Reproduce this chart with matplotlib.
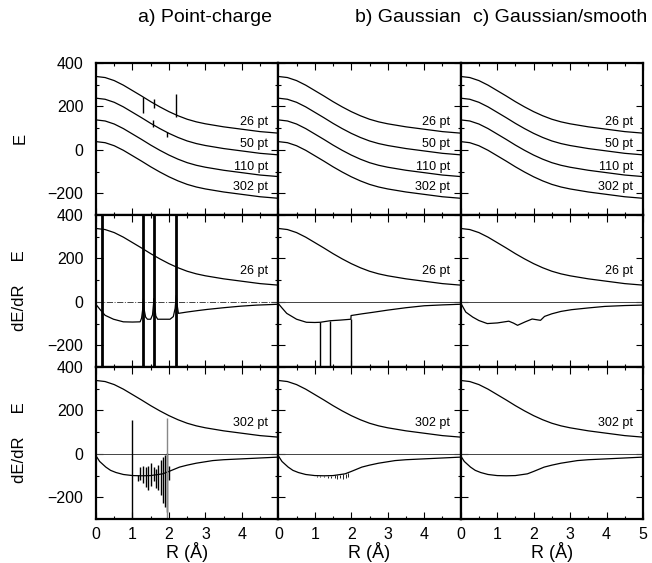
import numpy as np
import matplotlib
matplotlib.use("Agg")
import matplotlib.pyplot as plt
from matplotlib.ticker import MultipleLocator

plt.rcParams["font.family"] = ["Liberation Sans", "DejaVu Sans"]

# energia E (26 pt), le altre griglie sono spostate di -100 per leggibilita'
R_E = [0.0, 0.25, 0.5, 0.75, 1.0, 1.25, 1.5, 1.75, 2.0, 2.25, 2.5, 2.75,
       3.0, 3.5, 4.0, 4.5, 5.0]
E_26 = [338, 333, 319, 298, 273, 248, 222, 198, 176, 157, 141, 129,
        120, 106, 95, 84, 77]
GRIGLIE = ["26 pt", "50 pt", "110 pt", "302 pt"]
E_SHIFT = [0, -100, -200, -300]
POS_ETICH = [130, 28, -77, -173]

# glitch verticali su E (point-charge): 26 pt e 50 pt
GL26_R = [1.30, 1.59, 2.20]
GL26_LO = [171, 193, 150]
GL26_HI = [242, 233, 257]
GL50_R = [1.55, 1.94]
GL50_LO = [107, 61]
GL50_HI = [138, 84]

# dE/dR, 26 pt, point-charge (poli a R = 0.17, 1.30, 1.59, 2.20)
PC26_R = [0.0, 0.11, 0.25, 0.48, 0.75, 1.0, 1.21, 1.25, 1.28, 1.30, 1.32,
          1.36, 1.41, 1.50, 1.55, 1.58, 1.59, 1.61, 1.64, 1.69, 1.85, 2.03,
          2.12, 2.17, 2.20, 2.23, 2.26, 2.49, 2.8, 3.04, 3.5, 3.96, 4.4, 4.87, 5.0]
PC26_D = [-12, -35, -62, -80, -92, -93, -92, -75, -35, 15, -35, -70, -80,
          -80, -60, -5, 15, -20, -65, -80, -80, -80, -68, -30, 29, -20, -53,
          -47, -40, -35, -27, -20, -15, -12, -11]
POLI_R = [0.17, 1.30, 1.59, 2.20]

# dE/dR, 26 pt, gaussiana (salti verso il basso)
G26_R = [0.0, 0.1, 0.23, 0.5, 0.77, 1.0, 1.15, 1.42, 1.7, 1.99, 1.995, 2.3,
         2.6, 3.0, 3.5, 4.0, 4.5, 5.0]
G26_D = [-8, -28, -53, -80, -94, -95, -94, -87, -84, -80, -63, -55, -48,
         -38, -27, -18, -14, -11]
G26_CADUTE = [1.15, 1.42, 1.99]

# dE/dR, 26 pt, gaussiana smussata
SM26_R = [0.0, 0.14, 0.33, 0.5, 0.73, 1.01, 1.32, 1.45, 1.56, 1.77, 1.96,
          2.11, 2.19, 2.30, 2.50, 2.75, 3.04, 3.5, 3.95, 4.5, 4.96]
SM26_D = [-5, -47, -70, -86, -100, -97, -89, -98, -108, -92, -79, -83, -85,
          -67, -55, -44, -36, -28, -21, -17, -15]

# dE/dR, 302 pt (curva liscia)
D302_R = [0.0, 0.1, 0.27, 0.4, 0.55, 0.75, 1.0, 1.25, 1.5, 1.83, 2.0, 2.29,
          2.5, 2.75, 3.2, 3.5, 4.0, 4.5, 5.0]
D302_D = [-9, -35, -61, -76, -86, -95, -100, -101, -100, -92, -81, -61, -52,
          -43, -31, -27, -23, -19, -15]

# rumore 302 pt point-charge
PC302_R = [1.14, 1.21, 1.28, 1.36, 1.43, 1.50, 1.58, 1.65, 1.71, 1.78, 1.83,
           1.89, 1.94, 2.00]
PC302_LO = [-127, -120, -135, -154, -166, -147, -127, -158, -166, -189,
            -227, -243, -266, -120]
PC302_HI = [-97, -61, -55, -61, -55, -43, -61, -71, -51, -28, -15, -5, 3, -58]
PC302_LINEE_R = [0.98, 1.96]
PC302_LINEE_HI = [154, 167]

# rumore 302 pt gaussiana
G302_R = [1.05, 1.15, 1.25, 1.35, 1.45, 1.55, 1.62, 1.70, 1.78, 1.85, 1.92]
G302_LO = [-106, -108, -107, -110, -109, -112, -115, -110, -118, -112, -108]

TITOLI = ["a) Point-charge", "b) Gaussian", "c) Gaussian/smooth"]
TITOLI_X = [205, 408, 560]

fig = plt.figure(figsize=(6.52, 5.63), dpi=100)
gs = fig.add_gridspec(3, 3, left=96 / 652, right=643 / 652,
                      top=1 - 63 / 563, bottom=1 - 519 / 563,
                      hspace=0, wspace=0)
axs = [[fig.add_subplot(gs[r, c]) for c in range(3)] for r in range(3)]

LW = 0.9
for r in range(3):
    for c in range(3):
        ax = axs[r][c]
        ax.set_xlim(0, 5)
        ax.set_ylim(-300, 400)
        ax.xaxis.set_major_locator(MultipleLocator(1))
        ax.xaxis.set_minor_locator(MultipleLocator(0.5))
        ax.set_yticks([-200, 0, 200, 400])
        ax.yaxis.set_minor_locator(MultipleLocator(100))
        ax.tick_params(which="both", direction="in", top=True, right=True,
                       labelsize=11.5, width=0.8)
        ax.tick_params(which="major", length=5)
        ax.tick_params(which="minor", length=2.5)
        ax.tick_params(axis="y", pad=9)
        ax.tick_params(axis="x", pad=6)
        for s in ax.spines.values():
            s.set_linewidth(1.6)
        if c > 0:
            ax.tick_params(labelleft=False)
        if r < 2:
            ax.tick_params(labelbottom=False)
        else:
            ax.set_xticks([0, 1, 2, 3, 4, 5])
            ax.set_xticklabels(["0", "1", "2", "3", "4", "5" if c == 2 else ""])
            ax.set_xlabel("R (Å)", fontsize=13, labelpad=0)

# riga 1: E per tutte le griglie
for c in range(3):
    ax = axs[0][c]
    for nome, sh, ye in zip(GRIGLIE, E_SHIFT, POS_ETICH):
        ax.plot(R_E, np.array(E_26) + sh, color="black", lw=LW)
        ax.text(4.72, ye, nome, fontsize=9, ha="right", va="center")
axs[0][0].vlines(GL26_R, GL26_LO, GL26_HI, color="black", lw=1.0)
axs[0][0].vlines(GL50_R, GL50_LO, GL50_HI, color="black", lw=1.0)

# righe 2 e 3: E e dE/dR
for r, nome in [(1, "26 pt"), (2, "302 pt")]:
    for c in range(3):
        ax = axs[r][c]
        ax.plot(R_E, E_26, color="black", lw=LW)
        ax.text(4.72, 140, nome, fontsize=9, ha="right", va="center")
        if r == 1 and c == 0:
            ax.axhline(0, color="#444444", lw=0.7, ls="-.")
        else:
            ax.axhline(0, color="#444444", lw=0.7)

axs[1][0].plot(PC26_R, PC26_D, color="black", lw=LW)
axs[1][0].vlines(POLI_R, -300, 400, color="black", lw=2.0)
axs[1][1].plot(G26_R, G26_D, color="black", lw=LW)
axs[1][1].vlines(G26_CADUTE, -300, np.interp(G26_CADUTE, G26_R, G26_D),
                 color="black", lw=1.0)
axs[1][2].plot(SM26_R, SM26_D, color="black", lw=LW)

axs[2][0].plot(D302_R, D302_D, color="black", lw=LW)
axs[2][0].vlines(PC302_R, PC302_LO, PC302_HI, color="black", lw=1.0)
axs[2][0].vlines(PC302_LINEE_R, -300, PC302_LINEE_HI, color=["black", "#888888"], lw=1.0)
axs[2][1].plot(D302_R, D302_D, color="black", lw=LW)
axs[2][1].vlines(G302_R, G302_LO, np.interp(G302_R, D302_R, D302_D),
                 color="black", lw=0.6)
axs[2][2].plot(D302_R, D302_D, color="black", lw=LW)

for t, x in zip(TITOLI, TITOLI_X):
    fig.text(x / 652, 1 - 18 / 563, t, fontsize=14, ha="center", va="center")

fig.text(20 / 652, 1 - 138 / 563, "E", fontsize=12, rotation=90,
         ha="center", va="center")
for yc in [291, 443]:
    fig.text(20 / 652, 1 - yc / 563, "dE/dR     E", fontsize=12, rotation=90,
             ha="center", va="center")

fig.savefig("out.png", dpi=100)
